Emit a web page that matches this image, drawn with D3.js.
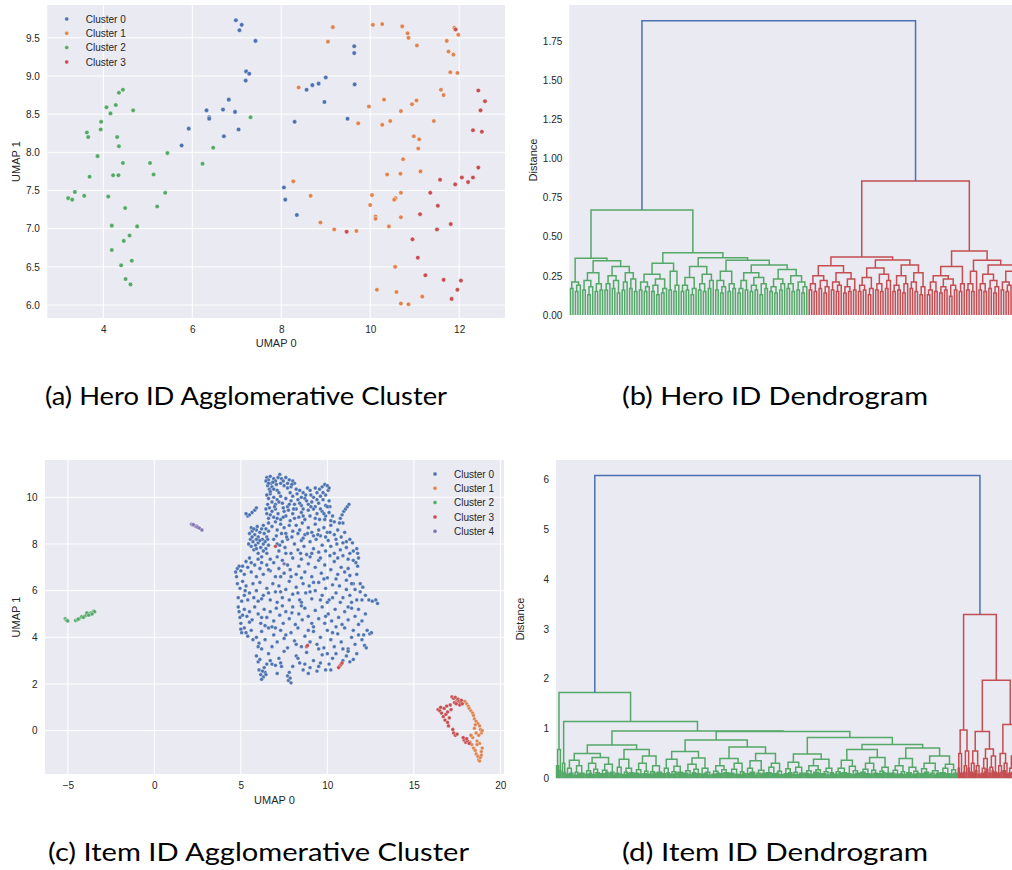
<!DOCTYPE html>
<html><head><meta charset="utf-8">
<script src="https://cdn.jsdelivr.net/npm/d3@7"></script>
<style>body{margin:0;background:#fff}svg{display:block}</style>
</head><body>
<script>
// ---------------- DATA ----------------
const heroXTicks=[4,6,8,10,12];
const heroYTicks=[6.0,6.5,7.0,7.5,8.0,8.5,9.0,9.5];
const itemXTicks=[-5,0,5,10,15,20];
const itemYTicks=[0,2,4,6,8,10];
const heroDistTicks=[0,0.25,0.5,0.75,1.0,1.25,1.5,1.75];
const itemDistTicks=[0,1,2,3,4,5,6];
const heroLabels=["Cluster 0","Cluster 1","Cluster 2","Cluster 3"];
const itemLabels=["Cluster 0","Cluster 1","Cluster 2","Cluster 3","Cluster 4"];
const captions=["(a) Hero ID Agglomerative Cluster","(b) Hero ID Dendrogram","(c) Item ID Agglomerative Cluster","(d) Item ID Dendrogram"];

const heroC0=[[6.98,9.73],[7.11,9.67],[7.06,9.60],[7.42,9.46],[7.21,9.06],[7.28,9.03],[7.20,8.94],[6.82,8.69],[6.32,8.55],[6.69,8.56],[6.96,8.53],[6.38,8.46],[6.38,8.44],[5.92,8.31],[7.04,8.30],[6.71,8.21],[5.76,8.09],[8.57,8.82],[8.70,8.88],[8.84,8.90],[9.0,8.98],[9.64,9.39],[9.64,9.30],[9.65,8.89],[8.97,8.66],[9.49,8.44],[8.30,8.40],[8.06,7.54],[8.09,7.38],[8.35,7.18]];
const heroC1=[[9.16,9.64],[9.05,9.45],[10.06,9.67],[10.27,9.68],[10.72,9.65],[10.84,9.56],[10.86,9.50],[11.05,9.40],[11.89,9.63],[11.98,9.54],[11.72,9.46],[11.76,9.32],[11.87,9.28],[11.80,9.05],[11.96,9.04],[8.39,8.85],[11.59,8.82],[11.65,8.75],[10.31,8.69],[11.04,8.68],[10.94,8.63],[9.97,8.60],[10.69,8.54],[10.45,8.41],[11.43,8.41],[9.73,8.38],[10.27,8.36],[10.98,8.21],[11.10,8.17],[11.08,8.05],[10.74,7.91],[10.38,7.71],[10.68,7.72],[11.13,7.75],[8.27,7.62],[10.04,7.44],[10.69,7.47],[10.57,7.40],[10.54,7.38],[8.66,7.43],[10.0,7.31],[10.12,7.16],[10.12,7.13],[10.69,7.15],[10.42,7.03],[8.88,7.08],[9.19,6.99],[9.69,6.97],[10.56,6.50],[10.15,6.20],[10.59,6.17],[11.17,6.11],[10.69,6.02],[10.86,6.01]];
const heroC2=[[4.44,8.82],[4.35,8.78],[4.07,8.59],[4.28,8.62],[4.16,8.51],[4.67,8.55],[3.95,8.40],[3.94,8.30],[3.63,8.26],[3.66,8.20],[4.31,8.20],[4.35,8.08],[7.31,8.46],[6.47,8.06],[5.44,7.99],[6.23,7.85],[3.87,7.95],[4.44,7.86],[5.05,7.86],[5.13,7.71],[4.22,7.70],[4.34,7.70],[3.69,7.68],[5.39,7.47],[3.36,7.48],[3.57,7.43],[3.21,7.40],[3.30,7.38],[4.11,7.42],[4.49,7.27],[5.21,7.29],[4.19,7.04],[4.76,7.03],[4.59,6.91],[4.46,6.84],[4.19,6.72],[4.64,6.58],[4.40,6.52],[4.50,6.34],[4.61,6.27]];
const heroC3=[[11.92,9.61],[12.43,8.81],[12.58,8.67],[12.48,8.55],[12.31,8.29],[12.51,8.27],[12.43,7.80],[12.06,7.67],[12.31,7.67],[12.20,7.61],[11.91,7.58],[11.57,7.64],[11.35,7.47],[11.52,7.30],[11.12,7.19],[11.81,7.06],[11.50,6.99],[9.47,6.96],[10.95,6.86],[11.07,6.62],[11.24,6.39],[11.65,6.33],[12.04,6.32],[11.96,6.20],[11.83,6.08]];

const itemC0=[[6.5,10.85],[6.6,10.75],[6.7,10.9],[6.75,10.6],[6.9,10.8],[7.0,10.7],[7.25,10.98],[7.35,10.8],[7.6,10.85],[7.8,10.75],[8.0,10.7],[8.1,10.6],[6.55,10.5],[6.65,10.35],[6.8,10.45],[7.05,10.55],[7.1,10.3],[7.5,10.5],[7.7,10.4],[7.9,10.45],[8.2,10.35],[8.4,10.3],[8.6,10.2],[8.85,10.4],[9.0,10.3],[9.4,10.2],[9.55,10.35],[9.7,10.45],[9.85,10.55],[10.0,10.5],[10.05,10.3],[9.9,10.1],[9.6,10.05],[9.2,10.0],
[6.5,10.1],[6.6,9.95],[6.7,10.15],[6.8,9.8],[6.9,10.0],[7.0,9.7],[7.1,9.9],[7.3,10.05],[7.4,9.75],[7.6,9.95],[7.7,9.6],[7.9,9.85],[8.1,9.7],[8.3,9.9],[8.5,9.65],[8.7,9.95],[8.9,9.7],[9.1,9.8],[9.3,9.6],[9.5,9.75],[9.75,9.9],[9.9,9.65],[10.1,9.85],[10.15,9.6],[6.55,9.7],[6.45,9.5],
[10.75,9.1],[10.85,9.25],[10.95,9.4],[11.05,9.5],[11.15,9.6],[11.25,9.7],[10.9,8.9],
[6.5,9.3],[6.6,9.1],[6.8,9.4],[6.9,9.15],[7.0,9.5],[7.15,9.3],[7.3,9.05],[7.5,9.4],[7.6,9.2],[7.75,9.45],[7.85,9.0],[8.0,9.3],[8.2,9.5],[8.35,9.15],[8.5,9.35],[8.7,9.05],[8.9,9.45],[9.0,9.2],[9.2,9.5],[9.4,9.3],[9.55,9.05],[9.7,9.4],[9.9,9.2],[10.1,9.35],[10.2,9.0],[5.4,9.2],[5.5,9.25],[5.65,9.35],[5.8,9.45],[5.9,9.55],[5.3,9.3],
[6.6,8.9],[6.8,8.75],[7.0,8.95],[7.1,8.6],[7.3,8.85],[7.5,8.7],[7.6,8.45],[7.8,8.8],[8.0,8.55],[8.2,8.8],[8.4,8.6],[8.55,8.9],[8.7,8.4],[8.9,8.7],[9.1,8.5],[9.3,8.85],[9.5,8.6],[9.6,8.35],[9.8,8.7],[10.0,8.5],[10.2,8.8],[10.4,8.4],[10.6,8.6],[10.8,8.3],[10.7,8.9],[11.0,8.5],[11.1,8.1],[11.3,8.2],[11.45,8.05],[5.65,8.55],[5.8,8.4],[5.9,8.6],[6.0,8.3],[6.1,8.5],[6.25,8.2],[6.35,8.45],[6.5,8.3],[6.6,8.55],[5.55,8.2],[5.7,8.1],[5.85,7.95],[6.0,8.05],[6.15,7.85],[6.3,8.0],[6.45,7.8],[6.6,7.95],[5.6,7.9],[5.75,7.75],
[6.9,8.2],[7.1,8.0],[7.2,7.7],[7.4,8.1],[7.55,7.85],[7.7,8.2],[7.9,7.6],[8.1,8.0],[8.3,7.75],[8.5,8.15],[8.65,7.9],[8.8,7.55],[9.0,8.1],[9.2,7.8],[9.35,8.2],[9.5,7.65],[9.7,7.95],[9.9,7.7],[10.05,8.15],[10.2,7.9],[10.4,7.6],[10.55,8.0],[10.75,7.75],[10.9,7.5],[11.1,7.85],[11.3,7.6],[11.7,7.8],[11.75,7.6],[11.8,7.4],[11.65,7.2],[11.75,7.05],[6.0,7.6],[6.2,7.45],[6.5,7.6],[6.7,7.35],
[4.7,6.8],[4.8,6.95],[4.9,7.05],[5.0,6.85],[4.75,6.6],[5.2,6.7],[5.4,7.0],[5.6,6.8],[5.8,7.1],[5.9,6.6],[6.1,6.95],[6.3,6.7],[6.5,7.1],[6.7,6.85],[6.9,7.2],[7.0,6.6],[7.2,6.95],[7.4,7.3],[7.5,6.75],[7.7,7.1],[7.85,6.9],[8.0,7.4],[8.2,6.7],[8.35,7.05],[8.5,7.35],[8.7,6.8],[8.9,7.15],[9.1,6.6],[9.3,7.0],[9.5,7.3],[9.65,6.75],[9.85,7.1],[10.0,6.55],[10.2,6.9],[10.4,7.25],[10.6,6.7],[10.8,7.0],[11.0,6.8],[11.2,6.95],[11.3,6.65],[11.5,7.3],[11.7,6.7],[5.5,7.4],[5.3,7.25],[6.0,7.35],[7.1,7.45],[9.0,7.45],
[4.8,6.3],[4.95,6.1],[5.1,6.4],[5.3,6.2],[5.5,5.9],[5.7,6.3],[5.9,6.0],[6.1,6.35],[6.3,5.8],[6.5,6.1],[6.7,5.6],[6.85,6.3],[7.0,5.95],[7.2,6.2],[7.4,5.7],[7.6,6.05],[7.8,6.4],[8.0,5.85],[8.2,6.15],[8.4,5.6],[8.6,6.3],[8.75,5.9],[8.95,6.2],[9.1,5.65],[9.3,6.0],[9.5,6.35],[9.7,5.8],[9.9,6.1],[10.1,5.6],[10.3,6.25],[10.5,5.9],[10.7,6.2],[10.9,5.7],[11.1,6.05],[11.3,5.8],[11.5,6.3],[11.7,5.6],[11.9,5.95],[12.05,6.15],[12.2,5.8],[12.4,5.6],[12.6,5.55],[12.8,5.6],[12.9,5.45],[4.85,5.7],[5.05,5.55],[5.2,5.8],[5.4,5.6],[6.0,5.55],[7.1,5.5],[8.5,5.5],[10.0,5.5],[11.4,5.5],
[4.85,5.3],[4.9,5.1],[4.95,4.85],[5.0,4.6],[5.2,5.2],[5.35,4.9],[5.5,5.1],[5.65,4.75],[5.8,5.3],[6.0,5.0],[6.15,4.6],[6.35,5.2],[6.5,4.85],[6.7,5.1],[6.9,4.7],[7.05,5.25],[7.25,4.95],[7.45,4.6],[7.6,5.1],[7.8,4.8],[8.0,5.3],[8.15,4.55],[8.35,5.0],[8.55,4.75],[8.7,5.25],[8.9,4.9],[9.1,4.6],[9.3,5.15],[9.5,4.8],[9.7,5.3],[9.85,4.6],[10.05,5.0],[10.25,4.7],[10.45,5.2],[10.65,4.85],[10.85,4.55],[11.0,5.1],[11.2,4.75],[11.4,5.25],[11.6,4.9],[11.8,5.2],[12.0,4.7],[12.2,5.0],[12.3,4.3],[12.45,4.15],[12.55,4.2],
[5.0,4.35],[5.05,4.2],[5.2,4.4],[5.4,4.05],[5.6,4.3],[5.9,4.0],[6.05,3.75],[6.2,4.25],[6.4,3.9],[6.6,4.4],[6.8,3.6],[6.9,4.1],[7.1,3.8],[7.3,4.3],[7.5,3.95],[7.7,3.55],[7.9,4.2],[8.1,3.85],[8.3,4.4],[8.5,3.6],[8.7,4.05],[9.0,3.8],[9.2,4.25],[9.4,3.7],[9.6,4.0],[9.8,3.55],[10.0,4.3],[10.2,3.9],[10.4,3.6],[10.6,4.15],[10.8,3.8],[11.0,4.4],[11.2,3.5],[11.4,4.0],[11.6,3.7],[11.8,4.1],[12.0,3.9],[12.15,3.65],[12.25,3.55],[6.0,3.6],[6.2,3.5],
[5.9,3.2],[6.0,2.95],[6.05,2.6],[6.15,2.4],[6.3,2.3],[6.4,2.5],[6.5,2.85],[6.6,3.3],[6.8,2.85],[7.0,2.8],[7.2,3.1],[7.35,2.75],[7.5,3.4],[7.7,2.35],[7.75,2.15],[7.85,2.25],[7.9,2.05],[8.0,2.75],[8.2,3.2],[8.4,2.9],[8.6,2.6],[8.8,3.35],[9.0,2.7],[9.2,3.0],[9.4,2.55],[9.5,2.75],[9.7,3.25],[9.9,2.6],[10.1,2.85],[10.3,3.1],[10.5,3.3],[10.9,3.0],[11.1,3.2],[11.3,2.95],[11.5,3.05],[11.7,3.3],[6.2,2.2],[6.35,2.7],[7.1,2.45],[8.9,2.45],
[6.45,10.7],[6.6,10.6],[6.85,10.65],[7.15,10.85],[7.45,10.7],[7.7,10.6],[7.95,10.55],[6.7,10.25],[6.9,10.35],[7.2,10.2],[7.3,10.6],[7.85,10.2],[8.0,10.05],[8.25,10.15],[8.5,10.0],[8.75,10.1],[9.05,10.1],[9.3,10.4],[9.75,10.2],[10.1,10.4],
[6.65,9.55],[6.95,9.6],[7.2,9.8],[7.45,9.55],[7.8,9.7],[8.05,9.5],[8.4,9.75],[8.6,9.5],[8.8,9.85],[9.05,9.6],[9.4,9.9],[9.6,9.5],[9.85,9.05],[10.0,9.6],[6.7,9.25],[7.1,9.1],[7.45,9.15],[8.1,9.1],[8.6,9.2],[9.3,9.1],[9.8,9.3],[10.3,9.2],[10.4,8.95],
[5.5,8.45],[5.6,8.7],[5.75,8.65],[5.95,8.75],[6.2,8.65],[6.3,8.8],[6.45,8.65],[5.65,8.3],[5.9,8.2],[6.1,8.15],[6.4,8.1],[6.55,8.2],[5.45,8.0],[5.9,7.8],[6.3,7.7],
[7.05,8.35],[7.35,8.45],[7.65,8.3],[7.95,8.3],[8.3,8.45],[8.6,8.25],[8.85,8.45],[9.2,8.35],[9.45,8.4],[9.9,8.3],[10.15,8.5],[10.5,8.2],[10.9,8.05],[7.25,7.95],[7.6,7.6],[8.45,7.6],[9.1,7.6],[9.6,7.4],[10.15,7.5],[10.6,7.4],[11.2,7.35],[11.5,7.7],
[5.1,7.05],[5.6,7.2],[6.2,7.2],[6.6,6.9],[7.3,6.6],[7.9,6.6],[8.5,6.55],[9.2,6.35],[9.8,6.5],[10.5,6.5],[11.1,6.45],[11.4,6.3],[11.9,6.3],
[5.25,6.0],[5.75,5.7],[6.2,5.65],[6.6,5.9],[7.3,5.95],[7.8,5.6],[8.3,5.9],[9.0,5.95],[9.6,5.6],[10.3,5.7],[10.75,5.5],[11.6,6.05],[12.0,5.6],
[5.1,4.95],[5.5,4.65],[6.2,4.85],[6.8,4.45],[7.4,5.35],[7.95,5.05],[8.5,5.35],[9.2,4.45],[9.9,4.9],[10.5,4.45],[11.2,5.3],[11.8,4.55],
[5.3,4.2],[5.7,3.9],[6.4,4.5],[7.0,4.4],[7.6,4.1],[8.2,3.7],[8.9,4.3],[9.5,3.5],[10.3,4.2],[10.9,3.5],[11.5,4.3],[12.1,4.1],
[6.1,3.05],[6.25,2.55],[6.45,2.4],[6.7,3.0],[7.3,2.9],[7.8,2.5],[8.3,3.1],[8.7,2.85],[9.6,2.9],[10.2,2.6],[10.0,3.3],[11.2,3.4]];
const itemC1=[[17.95,1.25],[18.05,1.15],[18.15,1.05],[18.2,0.95],[18.3,0.85],[18.4,0.75],[18.45,0.65],[18.5,0.5],[18.6,0.4],[18.7,0.3],[18.8,0.2],[18.85,0.05],[18.9,-0.1],[18.95,0.0],[18.75,-0.2],[18.6,-0.1],[18.5,0.1],[18.4,-0.3],[18.3,-0.2],[18.25,-0.5],[18.35,-0.6],[18.45,-0.75],[18.55,-0.85],[18.6,-1.0],[18.7,-1.1],[18.75,-1.25],[18.8,-1.3],[18.85,-1.15],[18.9,-0.9],[18.65,-0.45],[18.8,-0.55],[18.95,-0.75],[18.55,0.25],[18.65,-0.6],[18.9,-1.05]];
const itemC2=[[-5.15,4.8],[-5.1,4.75],[-5.05,4.72],[-5.0,4.7],[-4.55,4.72],[-4.45,4.75],[-4.35,4.8],[-4.2,4.88],[-4.05,4.9],[-3.95,4.95],[-3.85,5.0],[-3.75,5.02],[-3.7,4.98],[-3.65,5.05],[-3.55,5.08],[-3.5,5.12],[-3.45,5.1],[-3.9,5.05],[-4.1,4.85],[-4.4,4.78],[-3.6,5.0],[-3.8,4.95]];
const itemC3=[[17.2,1.45],[17.3,1.38],[17.4,1.42],[17.5,1.3],[17.55,1.35],[17.6,1.25],[17.7,1.2],[17.75,1.3],[17.35,1.2],[17.45,1.15],[17.65,1.1],[17.8,1.15],[17.1,1.1],[16.9,1.05],[16.4,0.9],[16.5,0.85],[16.6,0.75],[16.75,0.95],[16.7,0.6],[16.85,0.7],[16.95,0.8],[16.8,0.45],[16.95,0.35],[17.05,0.55],[17.0,0.2],[17.3,-0.1],[17.4,-0.2],[17.5,-0.15],[17.9,-0.4],[18.0,-0.5],[18.1,-0.45],[18.2,-0.55],[18.05,-0.35],[17.85,-0.3],[17.25,0.05],[16.55,1.0],[17.15,0.9],[10.7,2.75],[10.75,2.8],[10.8,2.85],[10.65,2.7],[10.85,2.9],[8.8,3.6],[8.85,3.65],[7.0,7.9]];
const itemC4=[[2.15,8.85],[2.2,8.82],[2.3,8.8],[2.35,8.78],[2.4,8.76],[2.45,8.75],[2.5,8.72],[2.6,8.68],[2.75,8.6],[2.25,8.83],[7.5,7.15]];

// Dendrogram trees: "(height child child ...)", "." = leaf, "n@h" = n leaves merged at h
const hA="(.21 (.17 . .) (.19 (.15 . .) .))";
const hB1="(.27 (.22 (.16 . .) (.18 (.13 . .) .)) (.2 (.15 . .) (.16 . .)))";
const hB2="(.31 (.25 (.2 (.16 . .) .) (.22 (.17 . .) (.14 . .))) (.27 (.21 (.16 . .) .) (.23 (.17 . .) (.15 . .))))";
const hC1="(.26 (.21 (.16 . .) (.18 (.15 . .) .)) (.23 (.19 (.15 . .) (.13 . .)) (.17 (.14 . .) .)))";
const hC2="(.28 (.16 . .) (.19 (.15 . .) .))";
const hD1="(.31 (.24 (.19 (.15 . .) (.16 . .)) (.17 (.13 . .) .)) (.26 (.2 (.16 . .) (.15 . .)) (.22 (.17 . .) .)))";
const hD2a="(.28 (.22 (.16 . .) (.18 (.14 . .) .)) (.2 (.15 . .) (.17 . .)))";
const hX="(.27 (.22 (.17 (.14 . .) .) (.16 . .)) (.24 (.19 (.15 . .) (.16 . .)) (.2 (.13 . .) (.17 . .))))";
const hY="(.29 (.23 (.18 (.15 . .) (.14 . .)) (.2 (.16 . .) .)) (.25 (.2 (.17 . .) (.15 . .)) (.21 (.16 . .) (.18 (.14 . .) .))))";
const hRL1="(.315 (.25 (.2 (.16 . .) (.15 . .)) (.22 (.17 . .) (.18 (.14 . .) .))) (.27 (.21 (.16 . .) (.19 (.15 . .) .)) (.23 (.18 (.14 . .) (.15 . .)) (.16 . .))))";
const hRL2a="(.3 (.24 (.19 (.15 . .) (.16 . .)) (.17 (.13 . .) .)) (.26 (.2 (.16 . .) (.15 . .)) (.22 (.17 . .) .)))";
const hRL2b="(.32 (.25 (.19 (.15 . .) (.16 . .)) (.2 (.14 . .) .)) (.27 (.21 (.17 . .) (.15 . .)) (.18 (.13 . .) .)))";
const hRR1a="(.25 (.21 (.16 (.13 . .) .) (.15 . .)) (.23 (.18 (.14 . .) (.16 . .)) (.19 (.12 . .) (.16 . .))))";
const hRR1b="(.2 (.15 . .) .)";
const hRR2a="(.28 (.2 (.16 . .) (.15 . .)) .)";
const hRR2b="(.32 (.26 (.2 (.16 . .) (.15 . .)) (.22 (.17 . .) (.18 (.14 . .) .))) (.28 (.21 (.16 . .) (.19 (.15 . .) .)) (.23 (.18 (.14 . .) (.15 . .)) (.16 . .))))";
const heroGreen=`(.67 (.362 ${hA} (.346 ${hB1} ${hB2})) (.398 (.33 ${hC1} ${hC2}) (.366 ${hD1} (.35 ${hD2a} (.32 ${hX} ${hY})))))`;
const heroRed=`(.856 (.37 ${hRL1} (.352 ${hRL2a} ${hRL2b})) (.409 (.31 ${hRR1a} ${hRR1b}) (.35 ${hRR2a} ${hRR2b})))`;
const heroTree=`(1.879 ${heroGreen} ${heroRed})`;

const iT1="(.58 3@.25 2@.15)";
const iT2="(.3 2@.1 2@.12)";
const iQ1aL="(.36 (.2 3@.08 4@.1) (.25 (.12 3@.06 2@.08) 5@.1))";
const iQ1aR="(.42 (.3 (.15 4@.08 3@.1) (.18 3@.07 4@.11)) (.28 (.16 5@.09 3@.12) (.12 4@.1 2@.06)))";
const iQ1b="(.58 (.38 (.22 4@.1 3@.08) (.2 (.12 3@.07 3@.09) 4@.11)) (.45 (.3 (.17 5@.1 3@.08) (.14 4@.09 2@.07)) (.25 (.13 3@.08 4@.1) 5@.12)))";
const iS1a="(.54 (.38 (.2 4@.09 3@.11) (.24 (.13 4@.08 3@.1) 5@.12)) (.41 (.28 (.15 5@.1 3@.07) (.18 4@.11 4@.09)) (.2 3@.08 (.12 4@.1 3@.06))))";
const iS1b="(.63 (.4 (.25 (.14 4@.08 4@.1) (.17 3@.09 5@.11)) (.3 (.18 5@.1 4@.08) (.13 3@.07 3@.1))) (.5 (.35 (.2 4@.09 5@.12) (.16 (.1 3@.06 3@.08) 4@.1)) (.3 (.22 5@.11 4@.09) (.14 3@.1 4@.07))))";
const iS2a="(.49 (.32 (.19 4@.09 4@.11) (.22 (.12 3@.08 3@.07) 5@.1)) (.38 (.25 (.15 4@.1 4@.08) (.17 5@.12 3@.09)) (.2 (.13 4@.09 3@.06) 4@.11)))";
const iS2b1="(.58 (.36 (.2 (.13 4@.08 3@.1) 5@.11) (.24 4@.09 (.15 3@.07 5@.1))) (.42 (.3 (.18 5@.12 4@.09) (.16 3@.08 4@.1)) (.22 (.14 4@.09 3@.11) 5@.1)))";
const iS2b2="(.61 (.4 (.25 (.16 4@.1 4@.08) (.13 3@.09 3@.07)) (.22 5@.11 (.14 4@.08 3@.1))) (.45 (.3 (.19 4@.09 5@.12) (.15 (.1 3@.07 3@.06) 4@.1)) (.28 (.2 5@.11 4@.09) (.17 3@.08 4@.1))))";
const iRdL="(.97 (.5 2@.2 3@.1) (.55 (.25 2@.12 2@.1) 2@.2))";
const iRdR1="(.94 (.55 (.3 3@.12 2@.1) (.25 2@.15 3@.08)) (.59 (.4 (.2 3@.1 2@.12) 2@.18) (.45 (.22 3@.1 2@.15) 3@.12)))";
const iRdR2="(1.08 (.5 (.25 3@.1 2@.12) (.3 3@.15 2@.08)) (.8 (.45 (.2 3@.1 3@.12) 2@.15) (.5 (.3 3@.1 2@.14) 3@.1)))";
const itemGreen=`(1.72 ${iT1} (1.14 ${iT2} (.95 (.67 (.5 ${iQ1aL} ${iQ1aR}) ${iQ1b}) (.94 (.77 ${iS1a} ${iS1b}) (.82 ${iS2a} (.68 ${iS2b1} ${iS2b2}))))))`;
const itemRed=`(3.29 ${iRdL} (1.97 ${iRdR1} ${iRdR2}))`;
const itemTree=`(6.08 ${itemGreen} ${itemRed})`;

// ---------------- STYLE ----------------
const BG="#eaeaf2", TXT="#262626", FONT="'Liberation Sans', Arial, sans-serif";
const COL={blue:"#4c72b0",orange:"#dd8452",green:"#55a868",red:"#c44e52",purple:"#8172b3"};

const svg=d3.select("body").append("svg").attr("width",1012).attr("height",870);

function styleAxis(g){
  g.select(".domain").remove();
  g.selectAll("text").attr("font-family",FONT).attr("font-size",10).attr("fill",TXT);
}

function scatterPanel(o){
  const g=svg.append("g");
  const x=d3.scaleLinear().domain(o.xDom).range([o.l,o.r]);
  const y=d3.scaleLinear().domain(o.yDom).range([o.b,o.t]);
  g.append("rect").attr("x",o.l).attr("y",o.t).attr("width",o.r-o.l).attr("height",o.b-o.t).attr("fill",BG);
  g.append("g").selectAll("line").data(o.xTicks).join("line")
    .attr("x1",d=>x(d)).attr("x2",d=>x(d)).attr("y1",o.t).attr("y2",o.b).attr("stroke","#fff").attr("stroke-width",1);
  g.append("g").selectAll("line").data(o.yTicks).join("line")
    .attr("y1",d=>y(d)).attr("y2",d=>y(d)).attr("x1",o.l).attr("x2",o.r).attr("stroke","#fff").attr("stroke-width",1);
  g.append("g").attr("transform",`translate(0,${o.b})`)
    .call(d3.axisBottom(x).tickValues(o.xTicks).tickSize(0).tickPadding(8).tickFormat(o.xFmt)).call(styleAxis);
  g.append("g").attr("transform",`translate(${o.l},0)`)
    .call(d3.axisLeft(y).tickValues(o.yTicks).tickSize(0).tickPadding(7.5).tickFormat(o.yFmt)).call(styleAxis);
  const clip="clip"+o.id;
  g.append("clipPath").attr("id",clip).append("rect").attr("x",o.l).attr("y",o.t).attr("width",o.r-o.l).attr("height",o.b-o.t);
  const pts=g.append("g").attr("clip-path",`url(#${clip})`);
  o.series.forEach(s=>{
    pts.append("g").selectAll("circle").data(s.data).join("circle")
      .attr("cx",d=>x(d[0])).attr("cy",d=>y(d[1])).attr("r",o.r0)
      .attr("fill",s.color).attr("stroke","#fff").attr("stroke-width",o.sw);
  });
  const lg=g.append("g");
  o.series.forEach((s,i)=>{
    const yy=o.legY+i*14.3;
    lg.append("circle").attr("cx",o.legMX).attr("cy",yy).attr("r",2).attr("fill",s.color).attr("stroke","#fff").attr("stroke-width",0.3);
    lg.append("text").attr("x",o.legTX).attr("y",yy+3.6).text(s.name)
      .attr("font-family",FONT).attr("font-size",10).attr("fill",TXT);
  });
  g.append("text").attr("x",(o.l+o.r)/2).attr("y",o.xLabY).attr("text-anchor","middle").text("UMAP 0")
    .attr("font-family",FONT).attr("font-size",11).attr("fill",TXT);
  g.append("text").attr("transform",`translate(${o.yLabX},${(o.t+o.b)/2}) rotate(-90)`).attr("text-anchor","middle").text("UMAP 1")
    .attr("font-family",FONT).attr("font-size",11).attr("fill",TXT);
}

function parseTree(str){
  const toks=str.match(/\(|\)|\d+@\d*\.?\d+|\d*\.\d+|\d+|\./g);
  let i=0;
  function node(){
    const t=toks[i++];
    if(t==="("){const h=+toks[i++];const ch=[];while(toks[i]!==")")ch.push(node());i++;return {h,children:ch};}
    if(t===".")return {leaf:true};
    const [n,h]=t.split("@");
    return {h:+h,children:d3.range(+n).map(()=>({leaf:true}))};
  }
  return node();
}

function dendroPanel(o){
  const root=parseTree(o.tree);
  let k=0;
  (function lay(n){
    if(n.leaf){n.x=5+10*k++;n.y=0;n.count=1;return;}
    n.children.forEach(lay);
    const f=n.children[0],l=n.children[n.children.length-1];
    n.x=(f.x+l.x)/2;n.y=n.h;n.count=d3.sum(n.children,c=>c.count);
  })(root);
  const N=k, G=root.children[0].count;
  const right=o.l+(o.splitX-o.l)*N/G;
  const x=d3.scaleLinear().domain([0,10*N]).range([o.l,right]);
  const y=d3.scaleLinear().domain(o.yDom).range([o.b,o.t]);
  const g=svg.append("g");
  g.append("rect").attr("x",o.l).attr("y",o.t).attr("width",1012-o.l).attr("height",o.b-o.t).attr("fill",BG);
  const links=[];
  (function walk(n,color){
    if(n.leaf)return;
    const f=n.children[0],l=n.children[n.children.length-1];
    let d=`M${x(f.x)},${y(f.y)}V${y(n.h)}H${x(l.x)}V${y(l.y)}`;
    n.children.slice(1,-1).forEach(c=>{d+=`M${x(c.x)},${y(c.y)}V${y(n.h)}`;});
    links.push({d,color});
    n.children.forEach((c,j)=>walk(c,color===COL.blue?o.colors[j]:color));
  })(root,COL.blue);
  links.reverse();
  g.append("g").selectAll("path").data(links).join("path")
    .attr("d",d=>d.d).attr("fill","none").attr("stroke",d=>d.color).attr("stroke-width",1.5);
  g.append("g").attr("transform",`translate(${o.l},0)`)
    .call(d3.axisLeft(y).tickValues(o.ticks).tickSize(0).tickPadding(7).tickFormat(o.fmt)).call(styleAxis);
  g.append("text").attr("transform",`translate(${o.l-32},${(o.t+o.b)/2}) rotate(-90)`).attr("text-anchor","middle").text("Distance")
    .attr("font-family",FONT).attr("font-size",11).attr("fill",TXT);
}

// ---------------- PANELS ----------------
scatterPanel({id:"a",l:47.3,r:505,t:5,b:318,xDom:[2.74,13.03],yDom:[5.83,9.93],
  xTicks:heroXTicks,yTicks:heroYTicks,xFmt:d3.format("d"),yFmt:d3.format(".1f"),r0:2.3,sw:0.5,
  series:[{name:heroLabels[0],color:COL.blue,data:heroC0},{name:heroLabels[1],color:COL.orange,data:heroC1},
          {name:heroLabels[2],color:COL.green,data:heroC2},{name:heroLabels[3],color:COL.red,data:heroC3}],
  legY:19,legMX:66.7,legTX:85.7,xLabY:347,yLabX:19.5});

scatterPanel({id:"c",l:45,r:504,t:460,b:774,xDom:[-6.32,20.21],yDom:[-1.86,11.6],
  xTicks:itemXTicks,yTicks:itemYTicks,xFmt:d3.format("d"),yFmt:d3.format("d"),r0:1.9,sw:0.3,
  series:[{name:itemLabels[0],color:COL.blue,data:itemC0},{name:itemLabels[1],color:COL.orange,data:itemC1},
          {name:itemLabels[2],color:COL.green,data:itemC2},{name:itemLabels[3],color:COL.red,data:itemC3},
          {name:itemLabels[4],color:COL.purple,data:itemC4}],
  legY:474,legMX:435,legTX:454,xLabY:803.5,yLabX:19.5});

dendroPanel({l:569.3,t:5,b:315,splitX:808,yDom:[0,1.98],tree:heroTree,ticks:heroDistTicks,fmt:d3.format(".2f"),colors:[COL.green,COL.red]});
dendroPanel({l:556,t:460,b:778.3,splitX:957.7,yDom:[0,6.39],tree:itemTree,ticks:itemDistTicks,fmt:d3.format("d"),colors:[COL.green,COL.red]});

// ---------------- CAPTIONS ----------------
const capPos=[[45,405,402],[622,405,306],[48,861,421],[622,861,306]];
captions.forEach((c,i)=>{
  svg.append("text").attr("x",capPos[i][0]).attr("y",capPos[i][1]).attr("textLength",capPos[i][2]).attr("lengthAdjust","spacingAndGlyphs")
    .text(c).attr("font-family","Lato, 'DejaVu Sans', sans-serif").attr("font-size",25).attr("fill","#000");
});
</script>
</body></html>
